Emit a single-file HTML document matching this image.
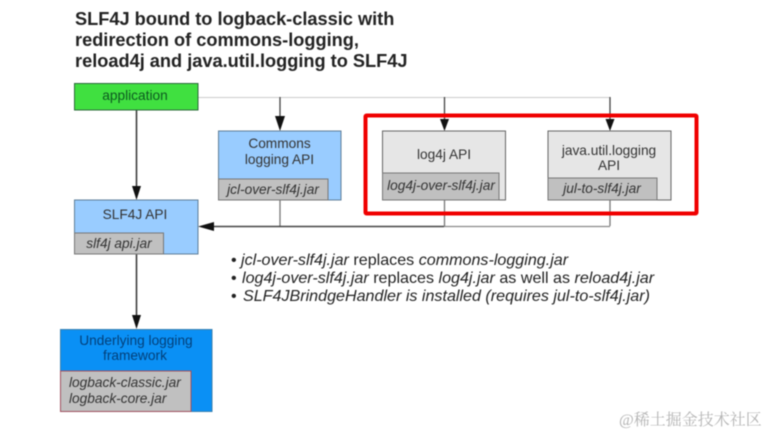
<!DOCTYPE html>
<html><head><meta charset="utf-8"><style>
html,body{margin:0;padding:0;background:#fff;width:768px;height:434px;overflow:hidden}
svg{display:block;filter:blur(.6px)}
text{font-family:"Liberation Sans","Noto Sans CJK SC",sans-serif;font-size:13.7px;fill:#333}
.c{text-anchor:middle}
.i{font-style:italic}
.t{font-size:18.2px;font-weight:bold;fill:#222}
.b{font-size:16.1px;fill:#222}
</style></head><body>
<svg width="768" height="434" viewBox="0 0 768 434" xmlns="http://www.w3.org/2000/svg">
<text class="t" x="75" y="25">SLF4J bound to logback-classic with</text>
<text class="t" x="75" y="46">redirection of commons-logging,</text>
<text class="t" x="75" y="67">reload4j and java.util.logging to SLF4J</text>

<g fill="none">
<path d="M198 97.500H610" stroke="#ccc" stroke-width="1"/>
<path d="M280 97V122M444.500 97V122M610 97V122" stroke="#444" stroke-width="1.300"/>
<path d="M136.500 110V190M136.500 254V318" stroke="#333" stroke-width="1.500"/>
<path d="M280 200V226M444.500 200V226M610 200V226" stroke="#777" stroke-width="1.300"/>
<path d="M210 226.500H444" stroke="#444" stroke-width="1.500"/>
<path d="M444 226.500H610" stroke="#888" stroke-width="1.300"/>
</g>
<g fill="#111">
<path d="M275 116H285L280 131Z"/>
<path d="M440 119H449L444.500 131Z"/>
<path d="M605.500 119H614.500L610 131Z"/>
<path d="M132 186H141L136.500 200Z"/>
<path d="M132 315H141L136.500 329Z"/>
<path d="M198 226.500L214 222V231Z"/>
</g>

<rect x="74.500" y="83.500" width="123.500" height="26.500" fill="#40e040" stroke="#2a6a3a" stroke-width="1"/>
<text class="c" x="135" y="100" style="fill:#0d5a20">application</text>

<rect x="218.500" y="131" width="122.500" height="69" fill="#99ccff" stroke="#5f7f99" stroke-width="1"/>
<rect x="218.500" y="179" width="109.500" height="21" fill="#c0c0c0" stroke="#777" stroke-width="1"/>
<text class="c" x="279.500" y="148">Commons</text>
<text class="c" x="279.500" y="164">logging API</text>
<text class="c i" x="273" y="194">jcl-over-slf4j.jar</text>

<rect x="382.500" y="131" width="123" height="69" fill="#e6e6e6" stroke="#666" stroke-width="1"/>
<rect x="382.500" y="173" width="116.500" height="27" fill="#c0c0c0" stroke="#777" stroke-width="1"/>
<text class="c" x="444" y="159">log4j API</text>
<text class="c i" x="441" y="190">log4j-over-slf4j.jar</text>

<rect x="548" y="131" width="123" height="69" fill="#e6e6e6" stroke="#666" stroke-width="1"/>
<rect x="548" y="178" width="109" height="22" fill="#c0c0c0" stroke="#777" stroke-width="1"/>
<text class="c" x="609" y="155">java.util.logging</text>
<text class="c" x="609" y="170">API</text>
<text class="c i" x="602" y="193">jul-to-slf4j.jar</text>

<rect x="74.500" y="200" width="123.500" height="54" fill="#99ccff" stroke="#5f7f99" stroke-width="1"/>
<rect x="74.500" y="233" width="89" height="21" fill="#c0c0c0" stroke="#777" stroke-width="1"/>
<text class="c" x="135" y="219">SLF4J API</text>
<text class="c i" x="119" y="248">slf4j api.jar</text>

<rect x="60.500" y="329.500" width="151.500" height="82" fill="#0a90f5" stroke="#3a80b0" stroke-width="1"/>
<rect x="60.500" y="371" width="130.500" height="40.500" fill="#c0c0c0" stroke="#a05060" stroke-width="1"/>
<text class="c" x="136" y="345" style="fill:#03407a">Underlying logging</text>
<text class="c" x="135" y="360" style="fill:#03407a">framework</text>
<text class="i" x="69" y="387">logback-classic.jar</text>
<text class="i" x="69" y="403">logback-core.jar</text>

<rect x="365.500" y="115.500" width="331" height="98" fill="none" stroke="#f00000" stroke-width="4" rx="1"/>

<text class="b" x="231" y="265">•</text>
<text class="b" x="241" y="265"><tspan class="i">jcl-over-slf4j.jar</tspan> replaces <tspan class="i">commons-logging.jar</tspan></text>
<text class="b" x="231" y="283">•</text>
<text class="b" x="242" y="283"><tspan class="i">log4j-over-slf4j.jar</tspan> replaces <tspan class="i">log4j.jar</tspan> as well as <tspan class="i">reload4j.jar</tspan></text>
<text class="b" x="231" y="301">•</text>
<text class="b i" x="243" y="301">SLF4JBrindgeHandler is installed (requires jul-to-slf4j.jar)</text>

<text x="619" y="425" style="font-family:'Liberation Serif','Noto Serif CJK SC',serif;font-size:16px;fill:#b4b4b4">@稀土掘金技术社区</text>
</svg>
</body></html>
